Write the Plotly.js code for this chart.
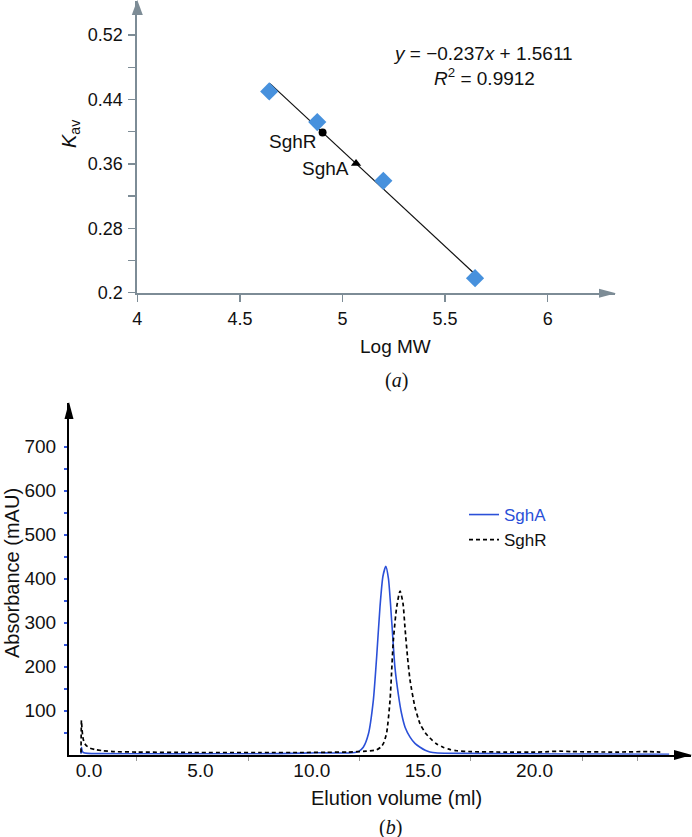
<!DOCTYPE html>
<html><head><meta charset="utf-8">
<script src="https://cdn.plot.ly/plotly-3.0.1.min.js"></script>
<style>html,body{margin:0;padding:0;background:#fff}#chart{width:692px;height:837px}</style>
</head><body><div id="chart"></div>
<script>
// ---------- panel (a): calibration ----------
const stdLogMW = [4.643, 4.877, 5.199, 5.646];
const stdKav = [0.450, 0.412, 0.339, 0.218];
const fitLogMW = [4.647, 5.65];
const fitKav = [0.4598, 0.2220];
const sghRLogMW = [4.903];
const sghRKav = [0.3990];
const sghALogMW = [5.066];
const sghAKav = [0.3604];
const kavTickVals = [0.2, 0.28, 0.36, 0.44, 0.52];
const kavTickText = ['0.2', '0.28', '0.36', '0.44', '0.52'];
const kavMinorVals = [0.24, 0.32, 0.40, 0.48];
const logTickVals = [4, 4.5, 5, 5.5, 6];
const logTickText = ['4', '4.5', '5', '5.5', '6'];
const equationText = '<i>y</i> = \u22120.237<i>x</i> + 1.5611';
const r2Text = '<i>R</i><sup>2</sup> = 0.9912';

// ---------- panel (b): chromatograms ----------
const volA = [0.0, 0.02, 0.05, 0.1, 0.3, 1.0, 3.0, 6.0, 9.0, 10.0, 10.6, 11.2, 12.0, 12.3, 12.45, 12.67, 12.9, 13.12, 13.27, 13.42, 13.55, 13.68, 13.8, 13.95, 14.09, 14.25, 14.39, 14.55, 14.77, 15.0, 15.22, 15.45, 15.66, 16.0, 17.0, 20.0, 23.0, 26.4];
const absA = [2, 17, 9, 5, 3, 2.5, 2, 2, 2.5, 3.5, 4.5, 4, 4, 5, 7, 17, 47, 123, 222, 336, 405, 428, 400, 300, 199, 135, 93, 62, 40, 25, 17, 10, 6, 4, 3, 2, 1.5, 1];
const volR = [0.0, 0.02, 0.04, 0.07, 0.1, 0.15, 0.25, 0.4, 0.7, 1.0, 1.5, 2.5, 5.0, 8.0, 10.0, 11.0, 12.0, 12.8, 13.27, 13.45, 13.57, 13.72, 13.87, 14.02, 14.17, 14.32, 14.45, 14.54, 14.65, 14.77, 14.99, 15.22, 15.45, 15.66, 15.95, 16.25, 16.55, 16.86, 17.5, 19.0, 20.5, 21.0, 21.5, 22.0, 24.0, 25.5, 26.0];
const absR = [5, 78, 62, 45, 35, 27, 20, 15, 11, 9, 7, 6, 5, 5, 5, 5.5, 6, 8, 11, 17, 25, 50, 123, 260, 336, 372, 345, 290, 225, 169, 108, 70, 50, 38, 25, 17, 12, 9, 7, 6, 6, 7, 8, 7, 6, 7, 6];
const absTickVals = [100, 200, 300, 400, 500, 600, 700];
const absTickText = ['100', '200', '300', '400', '500', '600', '700'];
const absMinorVals = [50, 150, 250, 350, 450, 550, 650];
const volTickVals = [0, 5, 10, 15, 20];
const volTickText = ['0.0', '5.0', '10.0', '15.0', '20.0'];
const volMinorVals = [2.5, 7.5, 12.5, 17.5, 22.5, 25];
const seriesNames = ['SghA', 'SghR'];

// ---------- styling ----------
const W = 692, H = 837;
const px = x => x / W;
const py = y => 1 - y / H;
const SANS = 'Liberation Sans, Arial, sans-serif';
const SERIF = 'Liberation Serif, Times New Roman, serif';
const GREY = '#7d8c96';
const BLUE = '#2b50d8';
const DIAMOND = '#4791dd';

function tri(tipX, tipY, dir, len, half) {
  let pts;
  if (dir === 'up') pts = [[tipX, tipY], [tipX - half, tipY + len], [tipX + half, tipY + len]];
  else pts = [[tipX, tipY], [tipX - len, tipY - half], [tipX - len, tipY + half]];
  return 'M' + pts.map(p => px(p[0]).toFixed(5) + ',' + py(p[1]).toFixed(5)).join(' L') + ' Z';
}

const traces = [
  {x: fitLogMW, y: fitKav, xaxis: 'x', yaxis: 'y', mode: 'lines', line: {color: '#111', width: 1.2}, showlegend: false, hoverinfo: 'skip'},
  {x: stdLogMW, y: stdKav, xaxis: 'x', yaxis: 'y', mode: 'markers', marker: {symbol: 'diamond', size: 14, color: DIAMOND}, showlegend: false},
  {x: sghRLogMW, y: sghRKav, xaxis: 'x', yaxis: 'y', mode: 'markers', marker: {symbol: 'circle', size: 8, color: '#000'}, showlegend: false},
  {x: sghALogMW, y: sghAKav, xaxis: 'x', yaxis: 'y', mode: 'markers', marker: {symbol: 'triangle-up', size: 9, color: '#000'}, showlegend: false},
  {x: volA, y: absA, xaxis: 'x2', yaxis: 'y2', mode: 'lines', name: '<span style="color:' + BLUE + '">' + seriesNames[0] + '</span>',
   line: {color: BLUE, width: 1.6, shape: 'spline', smoothing: 0.6}},
  {x: volR, y: absR, xaxis: 'x2', yaxis: 'y2', mode: 'lines', name: seriesNames[1],
   line: {color: '#000', width: 1.7, dash: '4px,3px', shape: 'spline', smoothing: 0.6}}
];

const layout = {
  width: W, height: H,
  margin: {l: 0, r: 0, t: 0, b: 0, pad: 0},
  paper_bgcolor: '#fff', plot_bgcolor: '#fff',
  font: {family: SANS, color: '#111', size: 18},
  showlegend: true,
  legend: {x: px(464), y: py(497), xanchor: 'left', yanchor: 'top', bgcolor: 'rgba(0,0,0,0)',
           font: {family: SANS, size: 17, color: '#111'}, tracegroupgap: 0, itemwidth: 30},
  xaxis: {domain: [px(137.3), px(615)], range: [4, 6.328], anchor: 'y',
          showgrid: false, zeroline: false, showline: true, linecolor: GREY, linewidth: 2,
          tickmode: 'array', tickvals: logTickVals, ticktext: logTickText,
          ticks: 'outside', ticklen: 7, tickwidth: 1.5, tickcolor: GREY, ticklabelstandoff: 2,
          tickfont: {family: SANS, size: 18, color: '#111'}},
  yaxis: {domain: [py(292.7), py(1)], range: [0.2, 0.5624], anchor: 'x',
          showgrid: false, zeroline: false, showline: true, linecolor: GREY, linewidth: 2,
          tickmode: 'array', tickvals: kavTickVals, ticktext: kavTickText,
          ticks: 'outside', ticklen: 7, tickwidth: 1.5, tickcolor: GREY, ticklabelstandoff: 2,
          minor: {tickmode: 'array', tickvals: kavMinorVals, ticks: 'outside', ticklen: 7, tickwidth: 1.5, tickcolor: GREY},
          tickfont: {family: SANS, size: 18, color: '#111'}},
  xaxis2: {domain: [px(69), px(691)], range: [-0.539, 27.38], anchor: 'y2',
          showgrid: false, zeroline: false, showline: true, linecolor: '#000', linewidth: 2,
          tickmode: 'array', tickvals: volTickVals, ticktext: volTickText,
          ticks: '', ticklabelshift: 8, ticklabelstandoff: -3,
          minor: {tickmode: 'array', tickvals: volMinorVals, ticks: 'outside', ticklen: 4, tickwidth: 1, tickcolor: '#999'},
          tickfont: {family: SANS, size: 19, color: '#111'}},
  yaxis2: {domain: [py(754.7), py(403.3)], range: [0, 798.6], anchor: 'x2',
          showgrid: false, zeroline: false, showline: true, linecolor: '#000', linewidth: 2,
          tickmode: 'array', tickvals: absTickVals, ticktext: absTickText,
          ticks: 'outside', ticklen: 3, tickwidth: 2, tickcolor: '#3355dd', ticklabelstandoff: 4,
          minor: {tickmode: 'array', tickvals: absMinorVals, ticks: 'outside', ticklen: 3, tickwidth: 2, tickcolor: '#3355dd'},
          tickfont: {family: SANS, size: 19, color: '#111'}},
  shapes: [
    {type: 'path', xref: 'paper', yref: 'paper', path: tri(137.3, 0, 'up', 15, 5.5), fillcolor: GREY, line: {width: 0}},
    {type: 'path', xref: 'paper', yref: 'paper', path: tri(616, 293.3, 'right', 17, 4.5), fillcolor: GREY, line: {width: 0}},
    {type: 'path', xref: 'paper', yref: 'paper', path: tri(69, 402, 'up', 17, 4.5), fillcolor: '#000', line: {width: 0}},
    {type: 'path', xref: 'paper', yref: 'paper', path: tri(692, 755, 'right', 18, 5), fillcolor: '#000', line: {width: 0}}
  ],
  annotations: [
    {text: equationText, xref: 'paper', yref: 'paper', x: px(483), y: py(53), xanchor: 'center', yanchor: 'middle', showarrow: false, font: {family: SANS, size: 19, color: '#111'}},
    {text: r2Text, xref: 'paper', yref: 'paper', x: px(484), y: py(77), xanchor: 'center', yanchor: 'middle', showarrow: false, font: {family: SANS, size: 19, color: '#111'}},
    {text: 'SghR', xref: 'x', yref: 'y', x: 4.887, y: 0.3876, xanchor: 'right', yanchor: 'middle', showarrow: false, font: {family: SANS, size: 19, color: '#111'}},
    {text: 'SghA', xref: 'x', yref: 'y', x: 5.040, y: 0.3545, xanchor: 'right', yanchor: 'middle', showarrow: false, font: {family: SANS, size: 19, color: '#111'}},
    {text: '<i>K</i><sub>av</sub>', xref: 'paper', yref: 'paper', x: px(70), y: py(134), xanchor: 'center', yanchor: 'middle', textangle: -90, showarrow: false, font: {family: SANS, size: 20, color: '#111'}},
    {text: 'Log MW', xref: 'paper', yref: 'paper', x: px(395), y: py(346), xanchor: 'center', yanchor: 'middle', showarrow: false, font: {family: SANS, size: 19, color: '#111'}},
    {text: '(<i>a</i>)', xref: 'paper', yref: 'paper', x: px(396), y: py(381), xanchor: 'center', yanchor: 'middle', showarrow: false, font: {family: SERIF, size: 20, color: '#111'}},
    {text: 'Absorbance (mAU)', xref: 'paper', yref: 'paper', x: px(12), y: py(573), xanchor: 'center', yanchor: 'middle', textangle: -90, showarrow: false, font: {family: SANS, size: 20, color: '#111'}},
    {text: 'Elution volume (ml)', xref: 'paper', yref: 'paper', x: px(397), y: py(798), xanchor: 'center', yanchor: 'middle', showarrow: false, font: {family: SANS, size: 20, color: '#111'}},
    {text: '(<i>b</i>)', xref: 'paper', yref: 'paper', x: px(390), y: py(827), xanchor: 'center', yanchor: 'middle', showarrow: false, font: {family: SERIF, size: 20, color: '#111'}}
  ]
};

Plotly.newPlot('chart', traces, layout, {displayModeBar: false, staticPlot: true});
</script>
</body></html>
